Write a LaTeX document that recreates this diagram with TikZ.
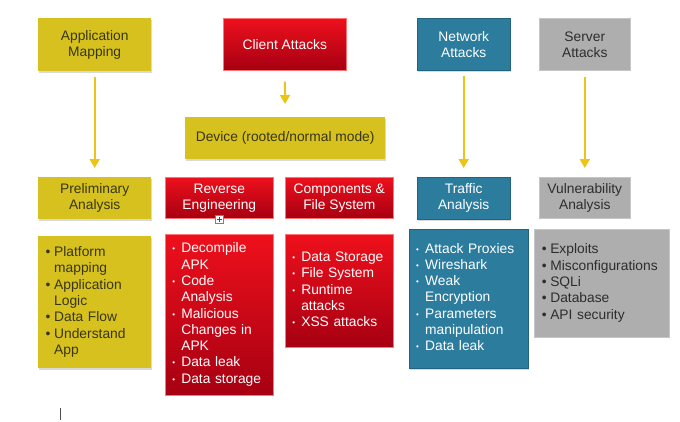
\documentclass[tikz,border=0pt]{standalone}
\usepackage{fontspec}
\setmainfont{Liberation Sans}
\usetikzlibrary{arrows.meta,shadows,positioning}
\definecolor{boxyellow}{RGB}{214,193,30}
\definecolor{arrowyellow}{RGB}{236,196,22}
\definecolor{boxblue}{RGB}{44,124,158}
\definecolor{boxgrey}{RGB}{174,174,174}
\definecolor{redtop}{RGB}{238,16,28}
\definecolor{redbottom}{RGB}{166,0,18}
\definecolor{darktext}{RGB}{56,54,22}
\definecolor{greytext}{RGB}{45,45,45}
\newcommand{\dotbig}{\makebox[9pt][l]{\hspace{0.5pt}\textbullet}}
\newcommand{\dotsmall}{\makebox[9pt][l]{\raisebox{1pt}{\fontsize{8}{8}\selectfont\textbullet}}}

\begin{document}
\begin{tikzpicture}[x=1pt,y=-1pt,
  box/.style={anchor=north west, inner sep=0pt, align=center,
    font=\fontsize{13.8}{16}\selectfont},
  yellowbox/.style={box, fill=boxyellow, text=darktext,
    drop shadow={opacity=0.3, shadow xshift=0.5pt, shadow yshift=-1.4pt}},
  redbox/.style={box, top color=redtop, bottom color=redbottom,
    draw=red!55!white, line width=0.6pt, text=white},
  bluebox/.style={box, fill=boxblue, draw=boxblue!80!black, line width=0.4pt, text=white,
    drop shadow={opacity=0.3, shadow xshift=0.5pt, shadow yshift=-1.4pt}},
  greybox/.style={box, fill=boxgrey, draw=boxgrey!70!white, line width=0.6pt, text=greytext},
  listbox/.style={align=left, inner xsep=7pt, font=\fontsize{13.8}{16.3}\selectfont},
  flow/.style={arrowyellow, line width=2pt, -{Triangle[width=10pt,length=9pt]}}]
\useasboundingbox (0,0) rectangle (680,421);

\node[yellowbox, minimum width=113pt, minimum height=53pt] (appmap) at (38,18) {Application\\Mapping};
\node[redbox, minimum width=123pt, minimum height=52pt] (client) at (223,18) {Client Attacks};
\node[bluebox, minimum width=93pt, minimum height=52pt] (network) at (417,18) {Network\\Attacks};
\node[greybox, minimum width=91pt, minimum height=52pt] (server) at (539,18) {Server\\Attacks};

\node[yellowbox, minimum width=200pt, minimum height=42pt] (device) at (185,117) {Device (rooted/normal mode)};

\node[yellowbox, minimum width=113pt, minimum height=42pt] (prelim) at (38,177) {Preliminary\\Analysis};
\node[redbox, minimum width=108pt, minimum height=41pt] (reverse) at (165,177) {Reverse\\Engineering};
\node[redbox, minimum width=108pt, minimum height=41pt] (components) at (285,177) {Components \&\\File System};
\node[bluebox, minimum width=93pt, minimum height=42pt] (traffic) at (417,177) {Traffic\\Analysis};
\node[greybox, minimum width=91pt, minimum height=41pt] (vuln) at (539,177) {Vulnerability\\Analysis};

\draw[flow, shorten <=6pt, shorten >=9pt] (appmap) -- (prelim);
\draw[flow, shorten <=11pt, shorten >=13pt] (client) -- (device);
\draw[flow, shorten <=6pt, shorten >=9pt] (network) -- (traffic);
\draw[flow, shorten <=6pt, shorten >=9pt] (server) -- (vuln);

\node[yellowbox, listbox, text width=99pt, minimum height=132pt] (prelimlist) at (38,236) {%
\begin{tabular}{@{}l@{}l@{}}
\dotbig & Platform\\ & mapping\\
\dotbig & Application\\ & Logic\\
\dotbig & Data Flow\\
\dotbig & Understand\\ & App
\end{tabular}};
\node[redbox, listbox, text width=94pt, minimum height=161pt] (reverselist) at (165,234) {%
\begin{tabular}{@{}l@{}l@{}}
\dotsmall & Decompile\\ & APK\\
\dotsmall & Code\\ & Analysis\\
\dotsmall & Malicious\\ & Changes in\\ & APK\\
\dotsmall & Data leak\\
\dotsmall & Data storage
\end{tabular}};
\node[redbox, listbox, text width=94pt, minimum height=113pt] (componentslist) at (285,234) {%
\begin{tabular}{@{}l@{}l@{}}
\dotsmall & Data Storage\\
\dotsmall & File System\\
\dotsmall & Runtime\\ & attacks\\
\dotsmall & XSS attacks
\end{tabular}};
\node[bluebox, listbox, text width=105pt, minimum height=139pt] (trafficlist) at (409,229) {%
\begin{tabular}{@{}l@{}l@{}}
\dotsmall & Attack Proxies\\
\dotsmall & Wireshark\\
\dotsmall & Weak\\ & Encryption\\
\dotsmall & Parameters\\ & manipulation\\
\dotsmall & Data leak
\end{tabular}};
\node[greybox, listbox, text width=121pt, minimum height=108pt] (vulnlist) at (534,229) {%
\begin{tabular}{@{}l@{}l@{}}
\dotbig & Exploits\\
\dotbig & Misconfigurations\\
\dotbig & SQLi\\
\dotbig & Database\\
\dotbig & API security
\end{tabular}};

\node[draw=gray, fill=white, line width=0.5pt, inner sep=0pt, minimum size=8pt] (expander) at (219.5,219.5) {};
\draw[gray!60!black, line width=0.5pt] ([yshift=-1.5pt]expander.north) -- ([yshift=1.5pt]expander.south);
\draw[gray!60!black, line width=0.5pt] ([xshift=1.5pt]expander.west) -- ([xshift=-1.5pt]expander.east);

\coordinate (cursortop) at (60,408);
\coordinate (cursorbottom) at (60,420);
\draw[black!70, line width=0.6pt] (cursortop) -- (cursorbottom);
\end{tikzpicture}
\end{document}
